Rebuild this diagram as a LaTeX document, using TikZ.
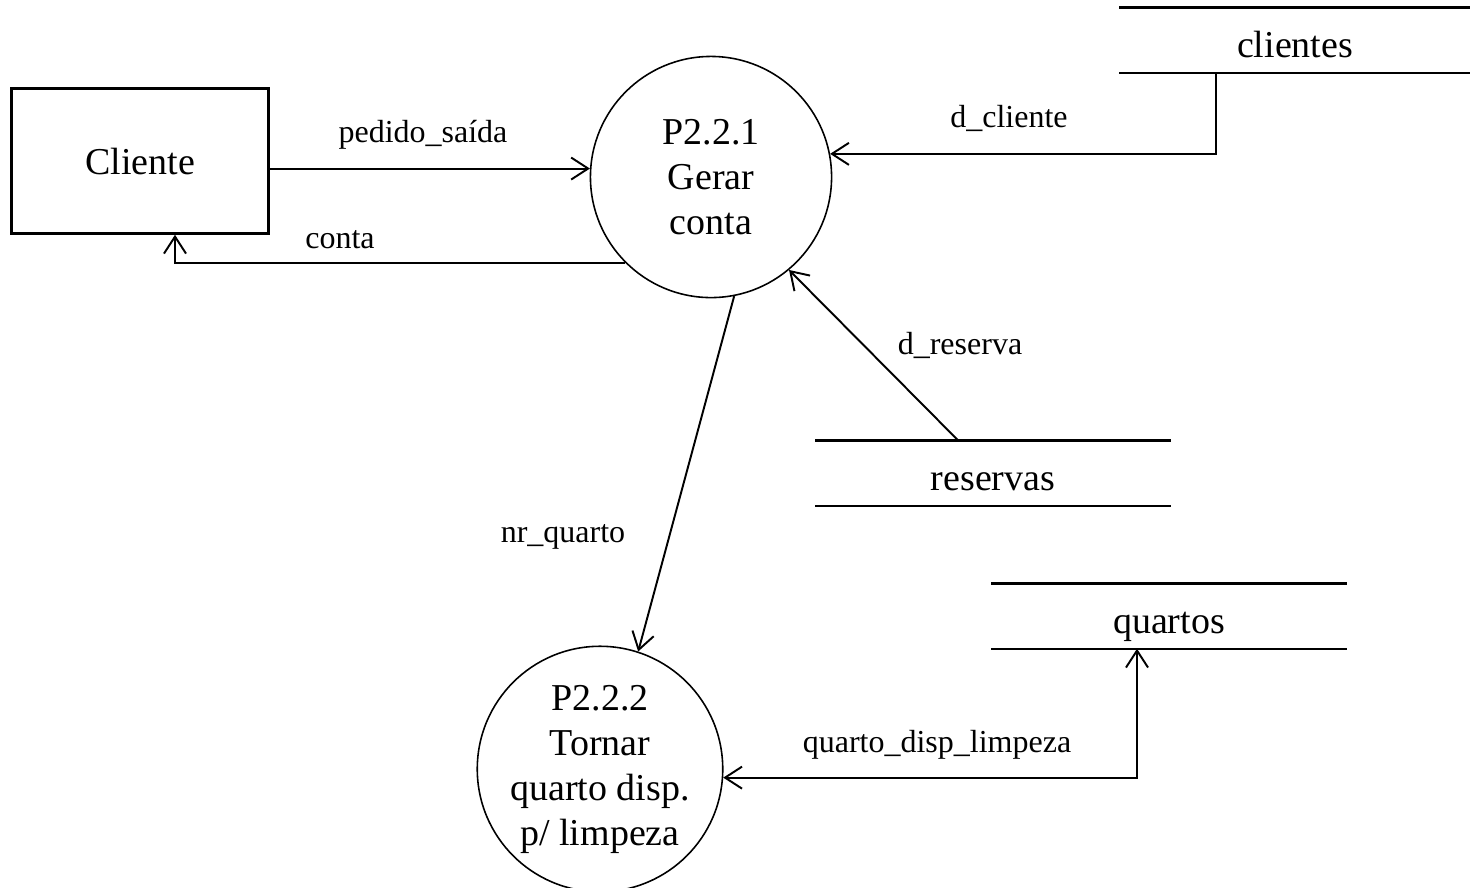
\documentclass[tikz,border=0pt]{standalone}
\usepackage{fontspec}
\setmainfont{Liberation Serif}
\usetikzlibrary{arrows.meta}

\begin{document}
\begin{tikzpicture}[x=0.01cm, y=-0.01cm, >={Straight Barb[length=1.7mm,width=2.2mm]},
        big/.style={font=\fontsize{10.8}{12.8}\selectfont, align=center},
        lbl/.style={font=\fontsize{9.1}{11}\selectfont},
        proc/.style={big, draw, circle, line width=0.45pt, minimum size=2.41cm, inner sep=0pt},
        store/.style={big, minimum width=3.54cm, minimum height=0.64cm, text height=10.2pt, text depth=0pt},
        flow/.style={line width=0.55pt}]
        \useasboundingbox (0, 0) rectangle (1470, 887);
	\node[big, draw, line width=0.7pt, minimum width=2.57cm, minimum height=1.45cm] (cliente) at (140, 161) {Cliente};
	\node[proc] (gerar) at (711, 177) {P2.2.1\\Gerar\\conta};
	\node[proc] (tornar) at (600, 769) {P2.2.2\\Tornar\\quarto disp.\\p/ limpeza};
	\node[store, minimum width=3.5cm] (clientes) at (1295, 40) {clientes};
	\node[store] (reservas) at (993, 473) {reservas};
	\node[store] (quartos) at (1169, 616) {quartos};
	\draw[line width=0.7pt] (clientes.north west) -- (clientes.north east);
	\draw[line width=0.7pt] (clientes.south west) -- (clientes.south east);
	\draw[line width=0.7pt] (reservas.north west) -- (reservas.north east);
	\draw[line width=0.7pt] (reservas.south west) -- (reservas.south east);
	\draw[line width=0.7pt] (quartos.north west) -- (quartos.north east);
	\draw[line width=0.7pt] (quartos.south west) -- (quartos.south east);
	\draw[flow, ->] (cliente.east |- gerar.176) -- (gerar.176);
	\draw[flow, ->] (gerar.225) -| (cliente.south -| 175, 0);
	\draw[flow, ->] (clientes.south -| 1216, 0) |- (gerar.11);
	\draw[flow, ->] (reservas.north -| 958, 0) -- (gerar.310);
	\draw[flow, ->] (gerar.281) -- (tornar.72);
	\draw[flow, <->] (tornar.356) -| (quartos.south -| 1137, 0);
	\node[lbl] (lpedido) at (423, 135) {pedido\_saída};
	\node[lbl] (lconta) at (340, 240) {conta};
	\node[lbl] (lcliente) at (1009, 118) {d\_cliente};
	\node[lbl] (lreserva) at (960, 345) {d\_reserva};
	\node[lbl] (lquarto) at (563, 537) {nr\_quarto};
	\node[lbl] (llimpeza) at (937, 745) {quarto\_disp\_limpeza};
    \end{tikzpicture}
\end{document}
